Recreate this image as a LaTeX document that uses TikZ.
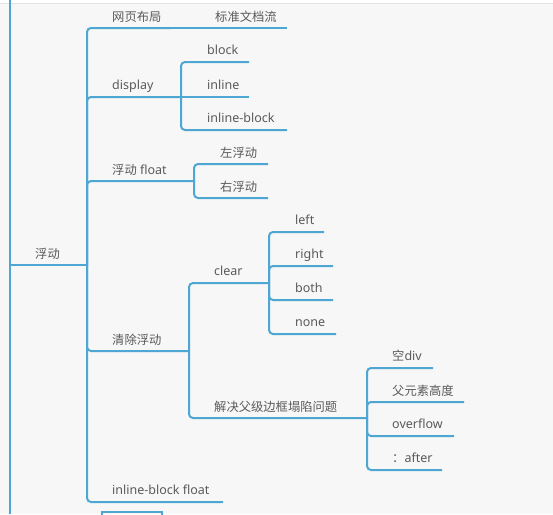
\documentclass[tikz,border=0pt]{standalone}
\usepackage{fontspec}
\setmainfont{Noto Sans}
\newfontfamily\cjkraw{Noto Sans CJK SC}
\newcommand{\cjk}{\cjkraw\fontsize{12.3}{14}\selectfont}
\begin{document}
\begin{tikzpicture}[x=1pt,y=-1pt,
  conn/.style={draw=lineblue, line width=2pt, rounded corners=4pt},
  lbl/.style={anchor=base west, inner sep=0pt, text=txtgray, font=\fontsize{12.5}{14}\selectfont}]
\definecolor{lineblue}{HTML}{4EA6D3}
\definecolor{txtgray}{HTML}{5A5A5A}
\definecolor{bgc}{HTML}{F7F7F7}
\definecolor{topline}{HTML}{E4E4E4}
\useasboundingbox (0,0) rectangle (553,514);
\clip (0,0) rectangle (553,514);
\fill[bgc] (0,0) rectangle (553,514);
\fill[white] (0,0) rectangle (553,3);
\draw[topline, line width=1pt] (0,3.5) -- (553,3.5);
% left bar
\coordinate (bar-t) at (10,0);
\coordinate (bar-b) at (10,514);
\draw[conn] (bar-t) -- (bar-b);
% text nodes
\node[lbl] (root) at (35,258) {\cjk 浮动};
\node[lbl] (web) at (112,21) {\cjk 网页布局};
\node[lbl] (std) at (215,21) {\cjk 标准文档流};
\node[lbl] (disp) at (112,89) {display};
\node[lbl] (blk) at (207,54) {block};
\node[lbl] (inl) at (207,89) {inline};
\node[lbl] (ib) at (207,122) {inline-block};
\node[lbl] (flt) at (112,174) {{\cjk 浮动} float};
\node[lbl] (lf) at (220,157) {\cjk 左浮动};
\node[lbl] (rf) at (220,191) {\cjk 右浮动};
\node[lbl] (clr) at (112,344) {\cjk 清除浮动};
\node[lbl] (clear) at (214,275) {clear};
\node[lbl] (left) at (295,224) {left};
\node[lbl] (right) at (295,258) {right};
\node[lbl] (both) at (295,292) {both};
\node[lbl] (none) at (295,326) {none};
\node[lbl] (fix) at (214,411) {\cjk 解决父级边框塌陷问题};
\node[lbl] (ediv) at (392,360) {{\cjk 空}div};
\node[lbl] (ph) at (392,395) {\cjk 父元素高度};
\node[lbl] (ovf) at (392,428) {overflow};
\node[lbl] (aft) at (392,462) {{\cjk ：}after};
\node[lbl] (ibf) at (112,494) {inline-block float};
% underline coordinates
\coordinate (root-s) at (10,265);  \coordinate (root-e) at (87,265);
\coordinate (web-e) at (170,28);   \coordinate (std-e) at (287,28);
\coordinate (disp-e) at (181,97);
\coordinate (blk-e) at (249,62);   \coordinate (inl-e) at (249,97);
\coordinate (ib-e) at (287,130);
\coordinate (flt-e) at (194,181);
\coordinate (lf-e) at (268,164);   \coordinate (rf-e) at (268,198);
\coordinate (clr-e) at (189,351);
\coordinate (clear-e) at (269,283);
\coordinate (left-e) at (324,232); \coordinate (right-e) at (333,266);
\coordinate (both-e) at (333,300); \coordinate (none-e) at (336,334);
\coordinate (fix-e) at (367,418);
\coordinate (ediv-e) at (433,368); \coordinate (ph-e) at (464,402);
\coordinate (ovf-e) at (454,436);  \coordinate (aft-e) at (442,470);
\coordinate (ibf-e) at (223,502);
% connectors
\draw[conn] (root-s) -- (root-e);
\draw[conn] (root-e) |- (web-e);
\draw[conn] (web-e) -- (std-e);
\draw[conn] (root-e) |- (disp-e);
\draw[conn] (disp-e) |- (blk-e);
\draw[conn] (disp-e) -- (inl-e);
\draw[conn] (disp-e) |- (ib-e);
\draw[conn] (root-e) |- (flt-e);
\draw[conn] (flt-e) |- (lf-e);
\draw[conn] (flt-e) |- (rf-e);
\draw[conn] (root-e) |- (clr-e);
\draw[conn] (clr-e) |- (clear-e);
\draw[conn] (clear-e) |- (left-e);
\draw[conn] (clear-e) |- (right-e);
\draw[conn] (clear-e) |- (both-e);
\draw[conn] (clear-e) |- (none-e);
\draw[conn] (clr-e) |- (fix-e);
\draw[conn] (fix-e) |- (ediv-e);
\draw[conn] (fix-e) |- (ph-e);
\draw[conn] (fix-e) |- (ovf-e);
\draw[conn] (fix-e) |- (aft-e);
\draw[conn] (root-e) |- (ibf-e);
% partially visible box at bottom
\node[draw=lineblue, line width=1.5pt, minimum width=60pt, minimum height=20pt, anchor=north west, inner sep=0pt] (nextbox) at (101,511) {};
\end{tikzpicture}
\end{document}
